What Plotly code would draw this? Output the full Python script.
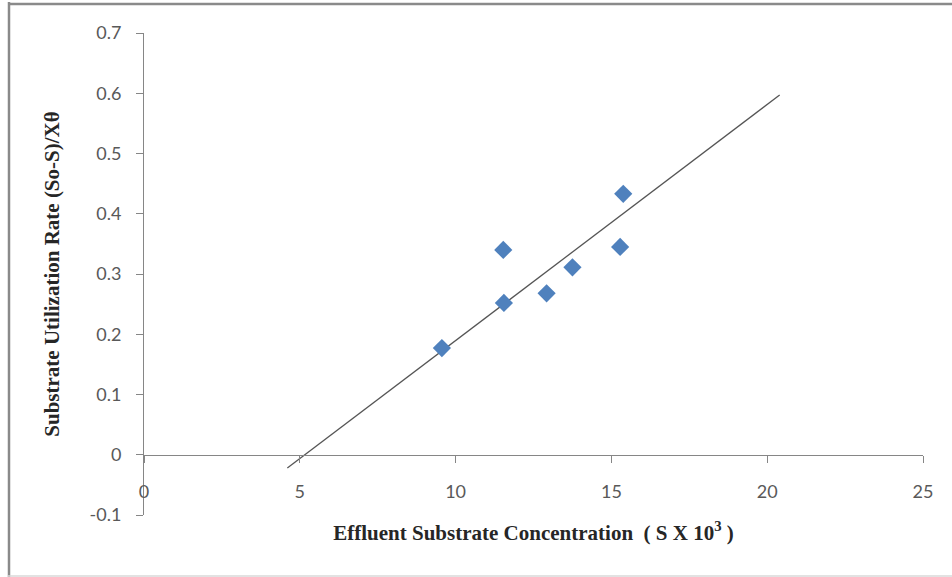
import plotly.graph_objects as go

# Data
conc_x = [9.56, 11.53, 11.55, 12.92, 13.75, 15.28, 15.38]
rate_y = [0.177, 0.340, 0.252, 0.268, 0.311, 0.345, 0.433]

trend_x = [4.6, 20.4]
trend_y = [-0.022, 0.597]

x_ticks = [0, 5, 10, 15, 20, 25]
y_ticks = [-0.1, 0, 0.1, 0.2, 0.3, 0.4, 0.5, 0.6, 0.7]
y_ticktext = ["-0.1", "0", "0.1", "0.2", "0.3", "0.4", "0.5", "0.6", "0.7"]

W, H = 952, 577
L, R, T, B = 144, 29, 33, 62
pw, ph = W - L - R, H - T - B

def px(X):
    return (X - L) / pw

def py(Y):
    return (H - B - Y) / ph

axis_col = "#868686"
tick_font = dict(family="Lato, 'Open Sans', sans-serif", size=18, color="#595959")
title_font = dict(family="'Liberation Serif', 'DejaVu Serif', serif", size=21, color="#262626")

fig = go.Figure()
fig.add_trace(go.Scatter(
    x=trend_x, y=trend_y, mode="lines",
    line=dict(color="#555555", width=1.3),
    showlegend=False, hoverinfo="skip",
))
fig.add_trace(go.Scatter(
    x=conc_x, y=rate_y, mode="markers",
    marker=dict(symbol="diamond", size=14, color="#4F81BD", line=dict(width=0)),
    showlegend=False,
))

fig.update_layout(
    width=W, height=H,
    margin=dict(l=L, r=R, t=T, b=B, pad=0),
    paper_bgcolor="white", plot_bgcolor="white",
    xaxis=dict(
        range=[0, 25], tickvals=x_ticks, showgrid=False, zeroline=False,
        showline=True, linecolor=axis_col, linewidth=1,
        ticks="outside", ticklen=7, tickcolor=axis_col, tickwidth=1,
        anchor="free", position=0.125,
        tickfont=tick_font, ticklabelstandoff=14,
        title=dict(
            text="<b>Effluent Substrate Concentration  ( S X 10<sup>3</sup> )</b>",
            font=title_font, standoff=23,
        ),
    ),
    yaxis=dict(
        range=[-0.1, 0.7], tickvals=y_ticks, ticktext=y_ticktext,
        showgrid=False, zeroline=False,
        showline=True, linecolor=axis_col, linewidth=1,
        ticks="outside", ticklen=7, tickcolor=axis_col, tickwidth=1,
        tickfont=tick_font, ticklabelstandoff=11,
        title=dict(
            text="<b>Substrate Utilization Rate (So-S)/Xθ</b>",
            font=title_font, standoff=24,
        ),
    ),
    shapes=[
        dict(type="line", xref="paper", yref="paper",
             x0=px(9), x1=px(9), y0=py(2), y1=py(577),
             line=dict(color="#8a8a8a", width=2.5)),
        dict(type="line", xref="paper", yref="paper",
             x0=px(8), x1=px(952), y0=py(4), y1=py(4),
             line=dict(color="#8a8a8a", width=2.5)),
        dict(type="line", xref="paper", yref="paper",
             x0=px(8), x1=px(952), y0=py(576), y1=py(576),
             line=dict(color="#d9d9d9", width=1.5)),
    ],
)

fig.write_html("out.html")
